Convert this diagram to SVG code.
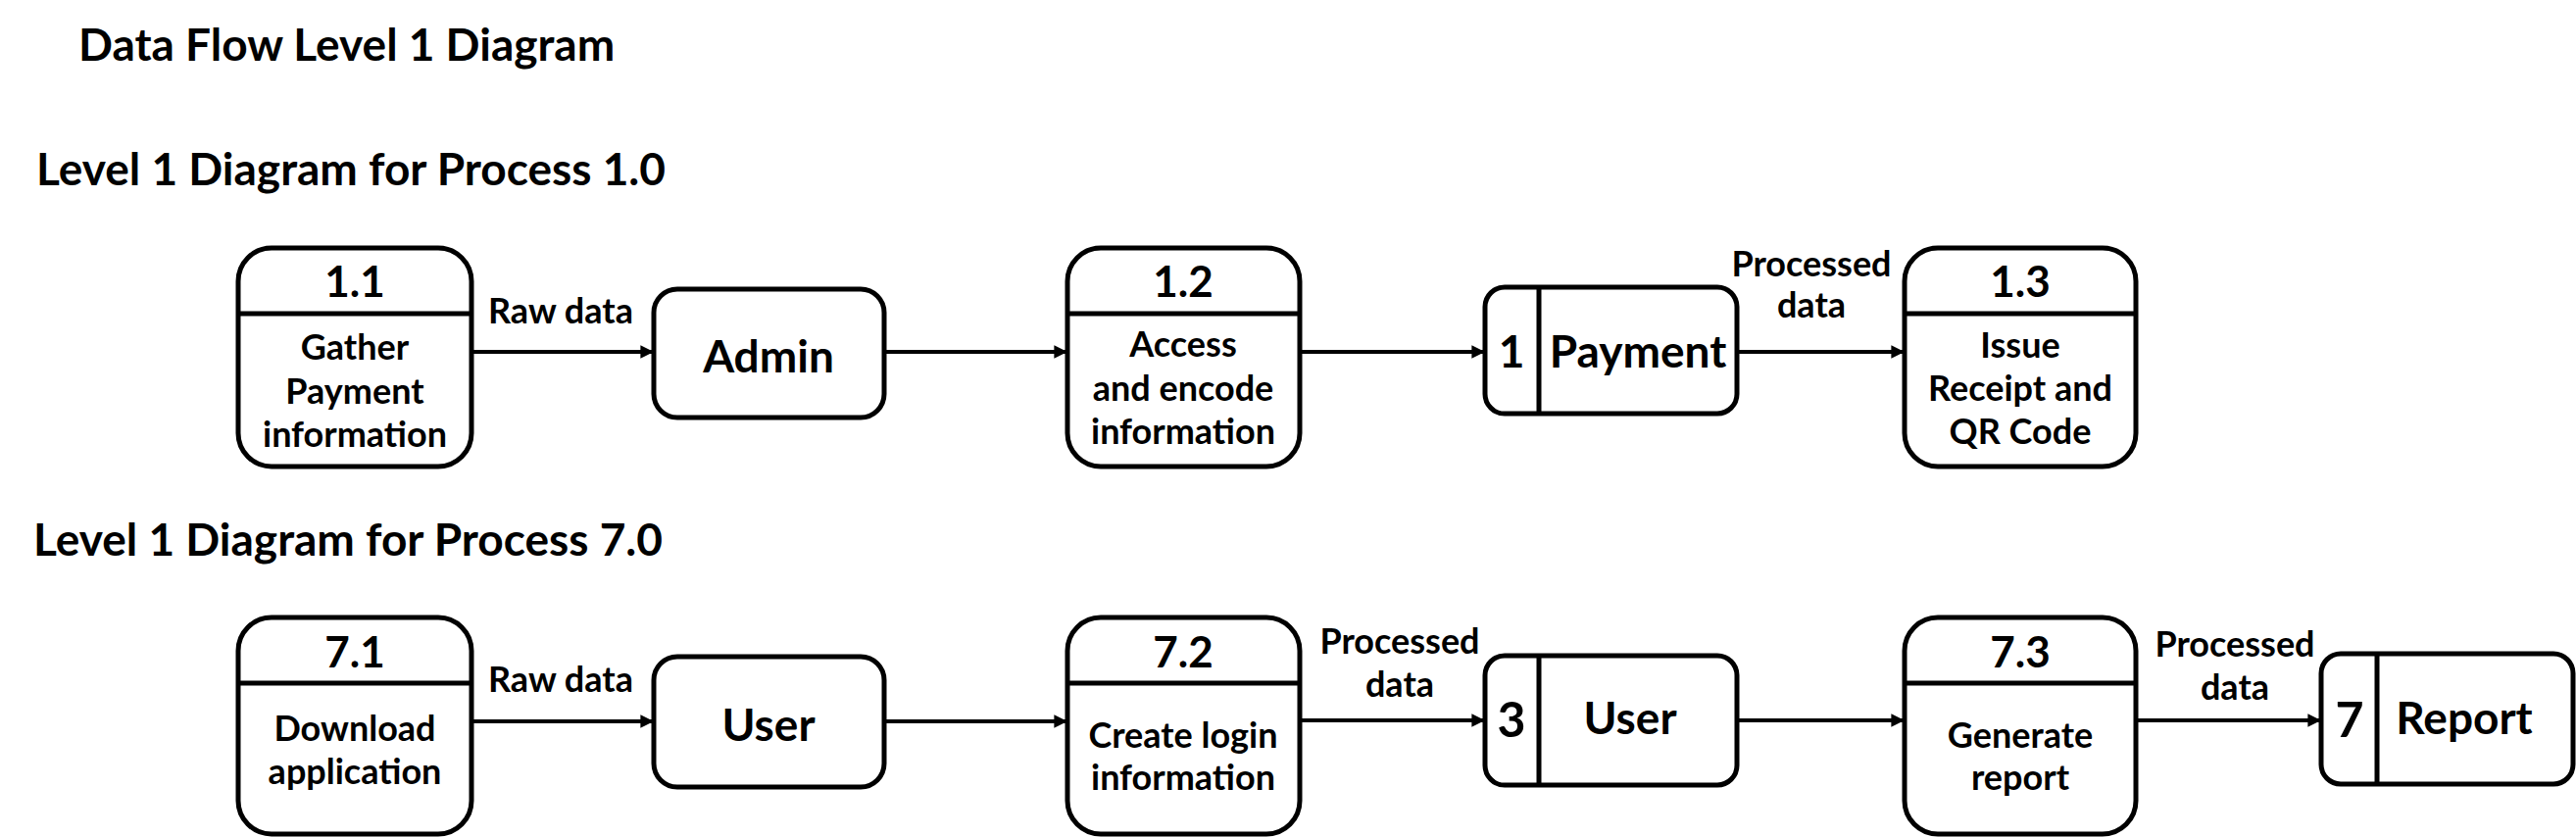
<svg xmlns="http://www.w3.org/2000/svg" width="2628" height="854" viewBox="0 0 2628 854">
<style>
text{font-family:Lato,"Liberation Sans",sans-serif;font-weight:700;fill:#000}
.title{font-size:46px}
.num{font-size:44px;text-anchor:middle}
.body{font-size:36px;text-anchor:middle}
.ent{font-size:46px;text-anchor:middle}
.sn{font-size:50px;text-anchor:middle}
.lbl{font-size:36px;text-anchor:middle}
.box{fill:#fff;stroke:#000;stroke-width:5}
.div{stroke:#000;stroke-width:5}
.flow{stroke:#000;stroke-width:4;fill:none;marker-end:url(#arr)}
</style>
<defs>
<marker id="arr" viewBox="0 0 10 10" refX="10" refY="5" markerWidth="4.2" markerHeight="3.4" orient="auto" markerUnits="strokeWidth">
<path d="M0,0 L10,5 L0,10 z" fill="#000"/>
</marker>
</defs>
<rect width="2628" height="854" fill="#fff"/>
<g id="titles">
<text class="title" x="80" y="62">Data Flow Level 1 Diagram</text>
<text class="title" x="37" y="189">Level 1 Diagram for Process 1.0</text>
<text class="title" x="34" y="567">Level 1 Diagram for Process 7.0</text>
</g>
<g id="connectors">
<line class="flow" x1="481" y1="359" x2="667" y2="359"/>
<line class="flow" x1="902" y1="359" x2="1089" y2="359"/>
<line class="flow" x1="1326" y1="359" x2="1515" y2="359"/>
<line class="flow" x1="1772" y1="359" x2="1943" y2="359"/>
<line class="flow" x1="481" y1="736" x2="667" y2="736"/>
<line class="flow" x1="902" y1="736" x2="1089" y2="736"/>
<line class="flow" x1="1326" y1="735" x2="1515" y2="735"/>
<line class="flow" x1="1772" y1="735" x2="1943" y2="735"/>
<line class="flow" x1="2179" y1="735" x2="2368" y2="735"/>
<text class="lbl" x="572" y="330">Raw data</text>
<text class="lbl" x="1848" y="282">Processed</text>
<text class="lbl" x="1848" y="324">data</text>
<text class="lbl" x="572" y="706">Raw data</text>
<text class="lbl" x="1428" y="667">Processed</text>
<text class="lbl" x="1428" y="711">data</text>
<text class="lbl" x="2280" y="670">Processed</text>
<text class="lbl" x="2280" y="714">data</text>
</g>
<g id="p1_1">
<rect class="box" x="243" y="253" width="238" height="223" rx="34"/>
<line class="div" x1="243" y1="320" x2="481" y2="320"/>
<text class="num" x="362" y="303">1.1</text>
<text class="body" x="362" y="367">Gather</text>
<text class="body" x="362" y="412">Payment</text>
<text class="body" x="362" y="456">information</text>
</g>
<g id="e_admin">
<rect class="box" x="667" y="295" width="235" height="131" rx="24"/>
<text class="ent" x="784" y="380">Admin</text>
</g>
<g id="p1_2">
<rect class="box" x="1089" y="253" width="237" height="223" rx="34"/>
<line class="div" x1="1089" y1="320" x2="1326" y2="320"/>
<text class="num" x="1207" y="303">1.2</text>
<text class="body" x="1207" y="364">Access</text>
<text class="body" x="1207" y="409">and encode</text>
<text class="body" x="1207" y="453">information</text>
</g>
<g id="ds_payment">
<rect class="box" x="1515" y="293" width="257" height="129" rx="20"/>
<line class="div" x1="1570" y1="293" x2="1570" y2="422"/>
<text class="ent" x="1542" y="375">1</text>
<text class="ent" x="1671" y="375">Payment</text>
</g>
<g id="p1_3">
<rect class="box" x="1943" y="253" width="236" height="223" rx="34"/>
<line class="div" x1="1943" y1="320" x2="2179" y2="320"/>
<text class="num" x="2061" y="303">1.3</text>
<text class="body" x="2061" y="365">Issue</text>
<text class="body" x="2061" y="409">Receipt and</text>
<text class="body" x="2061" y="453">QR Code</text>
</g>
<g id="p7_1">
<rect class="box" x="243" y="630" width="238" height="221" rx="34"/>
<line class="div" x1="243" y1="697" x2="481" y2="697"/>
<text class="num" x="362" y="681">7.1</text>
<text class="body" x="362" y="756">Download</text>
<text class="body" x="362" y="800">application</text>
</g>
<g id="e_user">
<rect class="box" x="667" y="670" width="235" height="133" rx="24"/>
<text class="ent" x="784" y="756">User</text>
</g>
<g id="p7_2">
<rect class="box" x="1089" y="630" width="237" height="221" rx="34"/>
<line class="div" x1="1089" y1="697" x2="1326" y2="697"/>
<text class="num" x="1207" y="681">7.2</text>
<text class="body" x="1207" y="763">Create login</text>
<text class="body" x="1207" y="806">information</text>
</g>
<g id="ds_user">
<rect class="box" x="1515" y="669" width="257" height="132" rx="20"/>
<line class="div" x1="1570" y1="669" x2="1570" y2="801"/>
<text class="sn" x="1542" y="752">3</text>
<text class="ent" x="1663" y="749">User</text>
</g>
<g id="p7_3">
<rect class="box" x="1943" y="630" width="236" height="221" rx="34"/>
<line class="div" x1="1943" y1="697" x2="2179" y2="697"/>
<text class="num" x="2061" y="681">7.3</text>
<text class="body" x="2061" y="763">Generate</text>
<text class="body" x="2061" y="806">report</text>
</g>
<g id="ds_report">
<rect class="box" x="2368" y="667" width="257" height="133" rx="20"/>
<line class="div" x1="2425" y1="667" x2="2425" y2="800"/>
<text class="sn" x="2397" y="752">7</text>
<text class="ent" x="2514" y="749">Report</text>
</g>
</svg>
